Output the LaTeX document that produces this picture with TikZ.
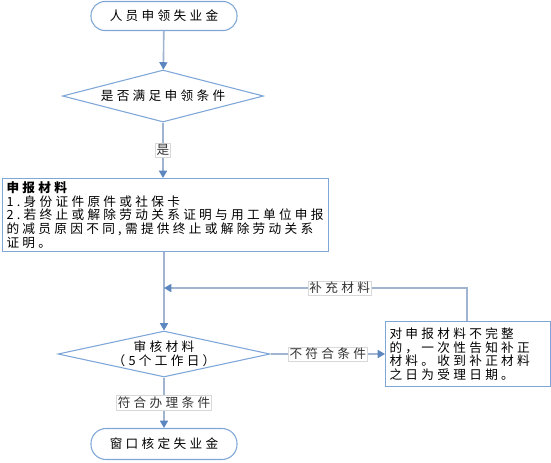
\documentclass[tikz,border=0pt]{standalone}
\usepackage{fontspec}
\newfontfamily\cjk{Noto Sans CJK SC}[LetterSpace=26]
\usetikzlibrary{shapes.geometric,arrows.meta}
\definecolor{nodeborder}{HTML}{7EA6D8}
\definecolor{linecol}{HTML}{A0B4CF}
\definecolor{tipcol}{HTML}{5B86C0}
\definecolor{lblborder}{HTML}{D8D8D8}
\begin{document}
\begin{tikzpicture}[x=0.75pt,y=-0.75pt,
  every node/.style={font=\cjk\fontsize{9.5}{10.3}\selectfont, text=black},
  term/.style={draw=nodeborder, line width=0.8pt, rounded corners=14*0.75pt, fill=white,
    minimum width=146*0.75pt, minimum height=29*0.75pt, inner sep=0pt},
  decide/.style={draw=nodeborder, line width=0.8pt, diamond, fill=white, inner sep=-8pt, align=center},
  boxstyle/.style={draw=nodeborder, line width=0.8pt, fill=white, align=left, inner xsep=4*0.75pt, inner ysep=2*0.75pt},
  conn/.style={draw=linecol, line width=1.2pt},
  arr/.style={conn, -{Triangle[width=6pt,length=5.5pt,color=tipcol]}},
  lbl/.style={fill=white, draw=lblborder, line width=0.4pt, inner sep=1pt, text=black!80}
]
\useasboundingbox (0,0) rectangle (551,462);

\node[term] (start) at (164,16) {人员申领失业金};
\node[decide, minimum width=201*0.75pt, minimum height=52*0.75pt, aspect=3.9] (d1) at (163,96) {是否满足申领条件};
\node[boxstyle, anchor=north west, text width=318*0.75pt, minimum height=73*0.75pt] (b1) at (2,178)
  {{\bfseries 申报材料}\\1.身份证件原件或社保卡\\2.若终止或解除劳动关系证明与用工单位申报\\的减员原因不同,需提供终止或解除劳动关系\\证明。};
\node[boxstyle, anchor=north west, text width=157*0.75pt, minimum height=65*0.75pt] (b2) at (385,321)
  {对申报材料不完整\\的，一次性告知补正\\材料。收到补正材料\\之日为受理日期。};
\node[decide, minimum width=212*0.75pt, minimum height=46*0.75pt, aspect=4.6] (d2) at (164,354) {审核材料\\（5个工作日）};
\node[term, minimum height=31*0.75pt, rounded corners=15*0.75pt] (end) at (164,444) {窗口核定失业金};

\coordinate (fb) at (467,288);
\coordinate (join) at (164,288);

\draw[arr] (start) -- (d1);
\draw[arr] (d1) -- node[lbl, pos=0.5] (yes) {是} (b1.north -| d1.south);
\draw[arr] (b1.south -| d2.north) -- (d2.north);
\draw[arr] (d2.east) -- node[lbl, pos=0.5] (no) {不符合条件} (b2.west |- d2.east);
\draw[arr] (b2.north -| fb) -- (fb) -- node[lbl, pos=0.42] (supp) {补充材料} (join);
\draw[arr] (d2.south) -- node[lbl, pos=0.5] (ok) {符合办理条件} (end.north);
\end{tikzpicture}
\end{document}
